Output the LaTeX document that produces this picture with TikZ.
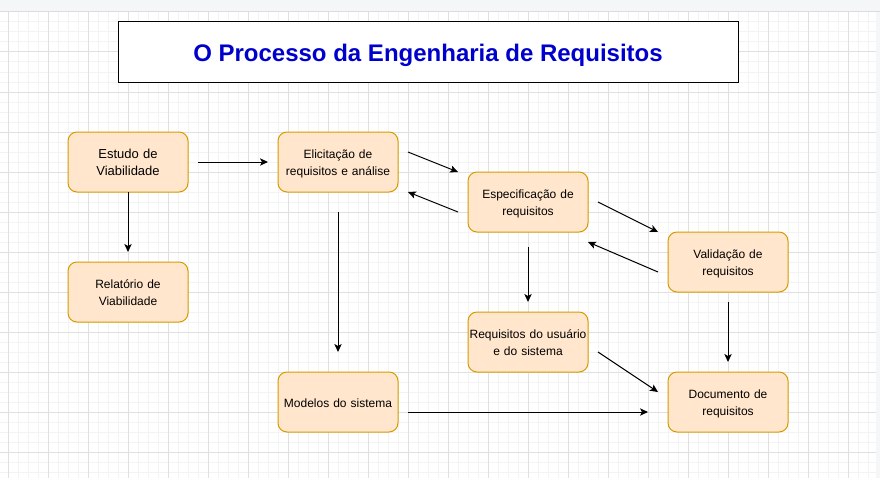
\documentclass[tikz,border=0pt]{standalone}
\usepackage{fontspec}
\setmainfont{Liberation Sans}
\usetikzlibrary{calc,arrows.meta}
\definecolor{boxfill}{HTML}{FFE6CC}
\definecolor{boxdraw}{HTML}{D79B00}
\definecolor{titleblue}{HTML}{0000CC}
\definecolor{gridmajor}{HTML}{E0E0E0}
\definecolor{gridminor}{HTML}{F3F3F3}
\definecolor{chrome}{HTML}{F5F6F8}
\definecolor{chromeline}{HTML}{DADCE0}
\newcommand\boxstrut{\rule[-2.25pt]{0pt}{12pt}}
\newcommand\titlestrut{\rule[-4.5pt]{0pt}{22.5pt}}
\begin{document}
\begin{tikzpicture}[x=0.75pt,y=-0.75pt,
  proc/.style={draw=boxdraw,fill=boxfill,rounded corners=6.75pt,line width=0.75pt,
    minimum width=90pt,minimum height=45pt,inner sep=0pt,outer sep=0pt,
    align=center,text width=88pt,font=\fontsize{9}{10.5}\selectfont,
    execute at begin node=\boxstrut,execute at end node=\boxstrut},
  titlebox/.style={draw=black,fill=white,line width=0.75pt,minimum width=465pt,
    minimum height=45pt,inner sep=0pt,outer sep=0pt,text=titleblue,
    font=\fontsize{18}{22}\selectfont\bfseries,execute at begin node=\titlestrut},
  flow/.style={-{Stealth[length=6pt,width=5.5pt,inset=1.5pt]},line width=0.75pt,black},
  gminor/.style={gridminor,line width=0.75pt},
  gmajor/.style={gridmajor,line width=0.75pt}]
\useasboundingbox (0,0) rectangle (880,478);
% background grid
\fill[white] (0,0) rectangle (880,478);
\foreach \x in {18,28,...,878} \draw[gminor] (\x,12) -- (\x,478);
\foreach \y in {22,32,...,478} \draw[gminor] (0,\y) -- (880,\y);
\foreach \x in {8,48,...,848} \draw[gmajor] (\x,12) -- (\x,478);
\foreach \y in {52,92,...,452} \draw[gmajor] (0,\y) -- (880,\y);
\fill[chrome] (0,0) rectangle (880,11);
\draw[chromeline,line width=0.75pt] (0,11.5) -- (880,11.5);
\fill[chrome] (876,12) rectangle (880,478);
% title
\node[titlebox] (title) at (428,52) {O Processo da Engenharia de Requisitos};
% process boxes
\node[proc,font=\fontsize{9.75}{10.5}\selectfont] (estudo) at (128,162) {Estudo de\\Viabilidade};
\node[proc] (elic) at (338,162) {Elicitação de\\requisitos e análise};
\node[proc] (espec) at (528,202) {Especificação de\\requisitos};
\node[proc] (valid) at (728,262) {Validação de\\requisitos};
\node[proc] (rel) at (128,292) {Relatório de\\Viabilidade};
\node[proc] (req) at (528,342) {Requisitos do usuário\\e do sistema};
\node[proc] (modelos) at (338,402) {Modelos do sistema};
\node[proc] (doc) at (728,402) {Documento de\\requisitos};
% connector end points
\coordinate (a1) at ($(estudo.east)+(10,0)$);
\coordinate (a2) at ($(elic.west)+(-10,0)$);
\coordinate (b1) at (estudo.south);
\coordinate (b2) at ($(rel.north)+(0,-10)$);
\coordinate (c1) at ($(elic.east)+(10,-10)$);
\coordinate (c2) at ($(espec.north west)+(-10,0)$);
\coordinate (d1) at ($(espec.west)+(-10,10)$);
\coordinate (d2) at ($(elic.south east)+(10,0)$);
\coordinate (e1) at ($(espec.east)+(10,0)$);
\coordinate (e2) at ($(valid.north west)+(-10,0)$);
\coordinate (f1) at ($(valid.west)+(-10,10)$);
\coordinate (f2) at ($(espec.south east)+(0,10)$);
\coordinate (g1) at ($(espec.south)+(0,15)$);
\coordinate (g2) at ($(req.north)+(0,-10)$);
\coordinate (h1) at ($(elic.south)+(0,20)$);
\coordinate (h2) at ($(modelos.north)+(0,-20)$);
\coordinate (i1) at ($(valid.south)+(0,10)$);
\coordinate (i2) at ($(doc.north)+(0,-10)$);
\coordinate (j1) at ($(req.east)+(10,10)$);
\coordinate (j2) at ($(doc.west)+(-10,-10)$);
\coordinate (k1) at ($(modelos.east)+(10,10)$);
\coordinate (k2) at ($(doc.west)+(-20,10)$);
% connectors
\draw[flow] (a1) -- (a2);
\draw[flow] (b1) -- (b2);
\draw[flow] (c1) -- (c2);
\draw[flow] (d1) -- (d2);
\draw[flow] (e1) -- (e2);
\draw[flow] (f1) -- (f2);
\draw[flow] (g1) -- (g2);
\draw[flow] (h1) -- (h2);
\draw[flow] (i1) -- (i2);
\draw[flow] (j1) -- (j2);
\draw[flow] (k1) -- (k2);
\end{tikzpicture}
\end{document}
